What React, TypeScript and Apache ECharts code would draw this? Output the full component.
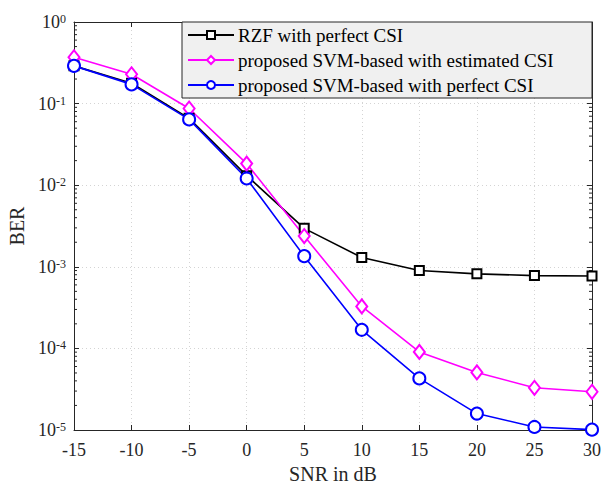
import React, { useEffect, useRef } from "react";
import * as echarts from "echarts";

const snr = [-15, -10, -5, 0, 5, 10, 15, 20, 25, 30];
const rzfPerfect = [0.29, 0.178, 0.066, 0.0131, 0.00296, 0.0013, 0.0009, 0.00082, 0.00078, 0.00077];
const svmEstimated = [0.37, 0.229, 0.087, 0.0184, 0.00238, 0.000327, 0.0000906, 0.0000508, 0.0000329, 0.0000294];
const svmPerfect = [0.29, 0.172, 0.064, 0.0121, 0.00135, 0.000169, 0.0000429, 0.0000159, 0.0000109, 0.0000101];
const seriesNames = [
  "RZF with perfect CSI",
  "proposed SVM-based with estimated CSI",
  "proposed SVM-based with perfect CSI",
];
const xTicks = { min: -15, max: 30, interval: 5 };
const yRange = { min: 1e-5, max: 1 };
const minorMantissas = [2, 3, 4, 5, 6, 7, 8, 9];
const decadeExponents = [-5, -4, -3, -2, -1];

const FONT = "'Liberation Serif', 'Times New Roman', serif";
const AX = "#262626";

export default function App() {
  const ref = useRef<HTMLDivElement>(null);
  useEffect(() => {
    if (!ref.current) return;
    const chart = echarts.init(ref.current, undefined, { renderer: "svg" });
    const minorTicks: number[] = [];
    decadeExponents.forEach((e) => minorMantissas.forEach((m) => minorTicks.push(m * Math.pow(10, e))));

    const mk = (name: string, data: number[], color: string, symbol: string, size: number | number[]) => ({
      name,
      type: "line",
      data: snr.map((x, i) => [x, data[i]]),
      symbol,
      symbolSize: size,
      showAllSymbol: true,
      color,
      lineStyle: { color, width: 1.6 },
      itemStyle: { color, borderWidth: 1.6 },
      z: 5,
    });

    const gridSplit = { show: true, lineStyle: { color: "#d4d4d4", type: [1, 3], width: 1 } };

    chart.setOption({
      animation: false,
      backgroundColor: "#ffffff",
      grid: { left: 74, right: 11, top: 22, bottom: 53, containLabel: false, outerBoundsMode: "none" },
      legend: {
        data: seriesNames,
        orient: "vertical",
        right: 11,
        top: 22,
        itemWidth: 46,
        itemHeight: 10,
        itemGap: 5,
        padding: [3, 4, 3, 5],
        backgroundColor: "#f0f0f0",
        borderColor: AX,
        borderWidth: 1,
        borderRadius: 0,
        textStyle: { fontFamily: FONT, fontSize: 19, color: "#000", width: 350, lineHeight: 20, padding: [0, 0, 0, -1] },
      },
      xAxis: [
        {
          type: "value",
          min: xTicks.min,
          max: xTicks.max,
          interval: xTicks.interval,
          name: "SNR in dB",
          nameLocation: "middle",
          nameGap: 27,
          nameTextStyle: { fontFamily: FONT, fontSize: 20, color: AX, lineHeight: 20 },
          axisLine: { show: true, onZero: false, lineStyle: { color: AX, width: 1 } },
          axisTick: { show: true, inside: true, length: 5, lineStyle: { color: AX } },
          axisLabel: { fontFamily: FONT, fontSize: 18, color: AX, margin: 11 },
          splitLine: gridSplit,
        },
        {
          type: "value",
          position: "top",
          min: xTicks.min,
          max: xTicks.max,
          interval: xTicks.interval,
          axisLine: { show: true, onZero: false, lineStyle: { color: AX, width: 1 } },
          axisTick: { show: true, inside: true, length: 5, lineStyle: { color: AX } },
          axisLabel: { show: false },
          splitLine: { show: false },
        },
      ],
      yAxis: [
        {
          type: "log",
          logBase: 10,
          min: yRange.min,
          max: yRange.max,
          name: "BER",
          nameLocation: "middle",
          nameGap: 44,
          nameTextStyle: { fontFamily: FONT, fontSize: 20, color: AX },
          axisLine: { show: true, onZero: false, lineStyle: { color: AX, width: 1 } },
          axisTick: { show: true, inside: true, length: 5, lineStyle: { color: AX } },
          axisLabel: {
            margin: 8,
            formatter: (v: number) => `{b|10}{s|${Math.round(Math.log10(v))}}`,
            rich: {
              b: { fontFamily: FONT, fontSize: 18, color: AX, lineHeight: 18, verticalAlign: "bottom", padding: [10, 0, 0, 0] },
              s: { fontFamily: FONT, fontSize: 12, color: AX, lineHeight: 12, verticalAlign: "top" },
            },
          },
          splitLine: gridSplit,
        },
        {
          type: "log",
          logBase: 10,
          position: "right",
          min: yRange.min,
          max: yRange.max,
          axisLine: { show: true, onZero: false, lineStyle: { color: AX, width: 1 } },
          axisTick: { show: true, inside: true, length: 5, lineStyle: { color: AX } },
          axisLabel: { show: false },
          splitLine: { show: false },
        },
      ],
      series: [
        {
          name: "minorTicks",
          type: "custom",
          silent: true,
          clip: false,
          data: minorTicks.map((v) => [xTicks.min, v]),
          renderItem: (params: any, api: any) => {
            const v = api.value(1);
            const pL = api.coord([xTicks.min, v]);
            const pR = api.coord([xTicks.max, v]);
            return {
              type: "group",
              children: [
                { type: "line", shape: { x1: pL[0], y1: pL[1], x2: pL[0] + 3, y2: pL[1] }, style: { stroke: AX, lineWidth: 1 } },
                { type: "line", shape: { x1: pR[0] - 3, y1: pR[1], x2: pR[0], y2: pR[1] }, style: { stroke: AX, lineWidth: 1 } },
              ],
            };
          },
          z: 3,
        },
        mk(seriesNames[0], rzfPerfect, "#000000", "emptyRect", 9),
        mk(seriesNames[1], svmEstimated, "#ff00ff", "emptyDiamond", [11, 14]),
        mk(seriesNames[2], svmPerfect, "#0000ff", "emptyCircle", 12),
      ],
    });
    return () => chart.dispose();
  }, []);
  return (
    <div
      ref={ref}
      style={{ position: "fixed", left: 0, top: 0, width: 603, height: 483, background: "#fff" }}
    />
  );
}
